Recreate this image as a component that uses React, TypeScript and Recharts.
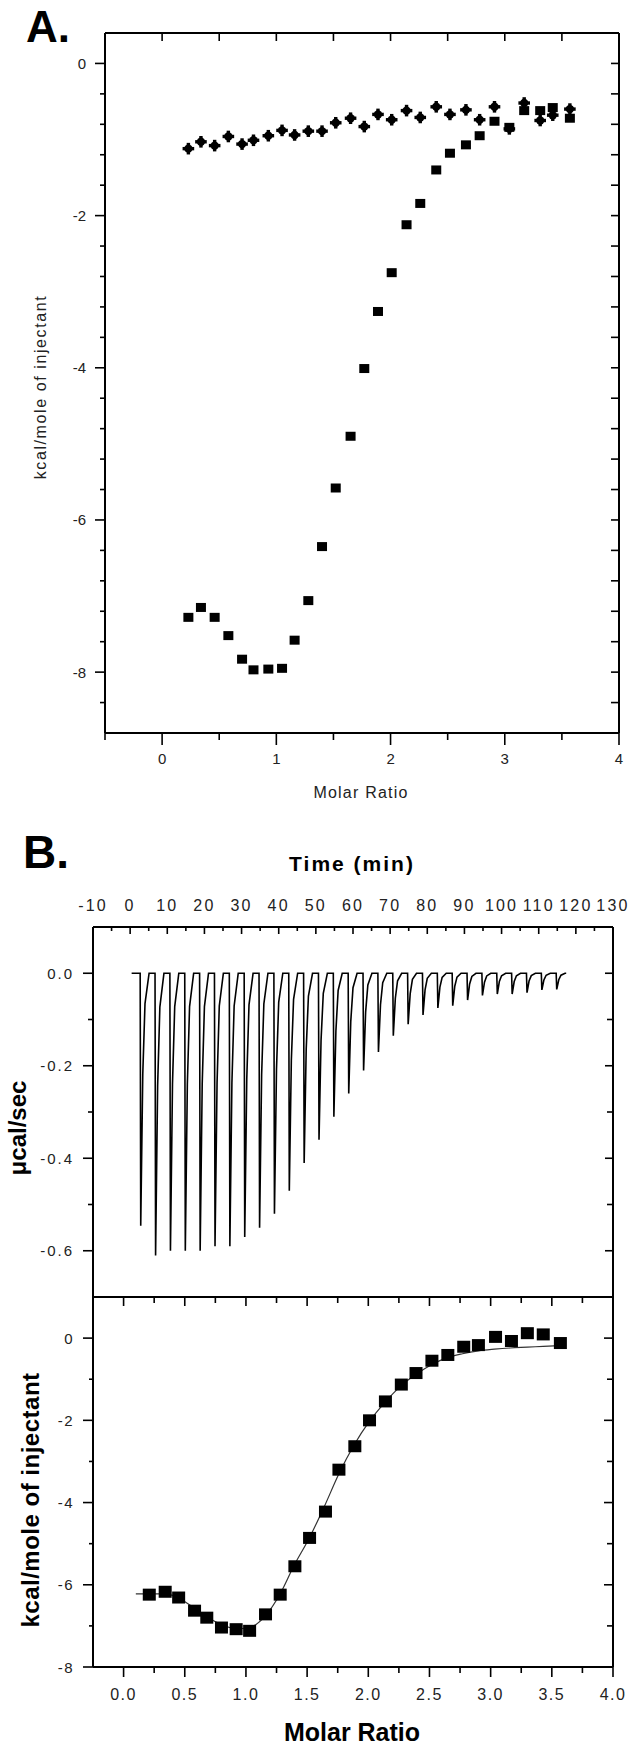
import { ComposedChart, Scatter, Line, XAxis, YAxis } from 'recharts';

const FONT = '"Liberation Sans", Arial, Helvetica, sans-serif';

// ---- panel A: heats per injection, titration vs. buffer control ----
const ratioA = [0.23, 0.34, 0.46, 0.58, 0.7, 0.8, 0.93, 1.05, 1.16, 1.28, 1.4, 1.52, 1.65, 1.77, 1.89, 2.01, 2.14, 2.26, 2.4, 2.52, 2.66, 2.78, 2.91, 3.04, 3.17, 3.31, 3.42, 3.57];
const titrationA = [-7.28, -7.15, -7.28, -7.52, -7.83, -7.97, -7.96, -7.95, -7.58, -7.06, -6.35, -5.58, -4.9, -4.01, -3.26, -2.75, -2.12, -1.84, -1.4, -1.18, -1.07, -0.95, -0.76, -0.84, -0.62, -0.62, -0.58, -0.72];
const controlA = [-1.12, -1.03, -1.08, -0.96, -1.06, -1.01, -0.95, -0.88, -0.94, -0.89, -0.89, -0.78, -0.72, -0.83, -0.67, -0.74, -0.62, -0.71, -0.57, -0.67, -0.61, -0.74, -0.57, -0.86, -0.52, -0.75, -0.68, -0.6];
const ticksAx = [-0.5, 0, 0.5, 1, 1.5, 2, 2.5, 3, 3.5, 4];
const ticksAxTop = [0, 0.5, 1, 1.5, 2, 2.5, 3, 3.5];
const ticksAy = [0, -0.4, -0.8, -1.2, -1.6, -2, -2.4, -2.8, -3.2, -3.6, -4, -4.4, -4.8, -5.2, -5.6, -6, -6.4, -6.8, -7.2, -7.6, -8, -8.4];

// ---- panel B top: raw thermogram ----
const injTimes = [2.7, 6.7, 10.7, 14.7, 18.7, 22.7, 26.7, 30.7, 34.7, 38.7, 42.7, 46.7, 50.7, 54.7, 58.7, 62.7, 66.7, 70.7, 74.7, 78.7, 82.7, 86.7, 90.7, 94.7, 98.7, 102.7, 106.7, 110.7, 114.7];
const injPeaks = [-0.546, -0.61, -0.6, -0.6, -0.6, -0.59, -0.59, -0.57, -0.55, -0.52, -0.47, -0.41, -0.36, -0.31, -0.26, -0.21, -0.17, -0.135, -0.11, -0.09, -0.075, -0.07, -0.058, -0.048, -0.045, -0.045, -0.042, -0.036, -0.035];
// shape of one injection peak: [minutes after injection, fraction of peak]
const spikeShape = [[0, 0], [0.15, 1], [0.7, 0.4], [1.3, 0.12], [2.4, 0]];
const baseline = [0.4, 117.4];
const ticksTime = [-10, -5, 0, 5, 10, 15, 20, 25, 30, 35, 40, 45, 50, 55, 60, 65, 70, 75, 80, 85, 90, 95, 100, 105, 110, 115, 120, 125, 130];
const ticksPower = [-0.6, -0.5, -0.4, -0.3, -0.2, -0.1, 0];

// ---- panel B bottom: integrated heats + fit ----
const ratioB = [0.21, 0.34, 0.45, 0.58, 0.68, 0.8, 0.92, 1.03, 1.16, 1.28, 1.4, 1.52, 1.65, 1.76, 1.89, 2.01, 2.14, 2.27, 2.39, 2.52, 2.65, 2.78, 2.9, 3.04, 3.17, 3.3, 3.43, 3.57];
const heatB = [-6.24, -6.17, -6.31, -6.63, -6.8, -7.04, -7.08, -7.12, -6.72, -6.24, -5.55, -4.86, -4.22, -3.2, -2.63, -2.0, -1.54, -1.13, -0.85, -0.55, -0.41, -0.21, -0.17, 0.03, -0.07, 0.12, 0.09, -0.12];
const fitX = [0.1, 0.21, 0.34, 0.45, 0.57, 0.68, 0.8, 0.92, 1.03, 1.16, 1.28, 1.39, 1.52, 1.64, 1.76, 1.88, 2.01, 2.14, 2.26, 2.39, 2.52, 2.64, 2.77, 2.9, 3.03, 3.16, 3.3, 3.43, 3.57];
const fitY = [-6.22, -6.22, -6.22, -6.32, -6.55, -6.78, -6.97, -7.07, -7.04, -6.75, -6.22, -5.55, -4.85, -4.1, -3.3, -2.62, -2.02, -1.55, -1.18, -0.88, -0.64, -0.48, -0.38, -0.31, -0.27, -0.24, -0.22, -0.2, -0.18];
const ticksBx = [0, 0.25, 0.5, 0.75, 1, 1.25, 1.5, 1.75, 2, 2.25, 2.5, 2.75, 3, 3.25, 3.5, 3.75, 4];
const ticksBxTop = [0, 0.25, 0.5, 0.75, 1, 1.25, 1.5, 1.75, 2, 2.25, 2.5, 2.75, 3, 3.25, 3.5, 3.75];
const ticksBy = [-8, -7, -6, -5, -4, -3, -2, -1, 0];

const scatterA = ratioA.map((x, i) => ({ x, y: titrationA[i] }));
const controlPts = ratioA.map((x, i) => ({ x, y: controlA[i] }));
const scatterB = ratioB.map((x, i) => ({ x, y: heatB[i] }));
const fitPts = fitX.map((x, i) => ({ x, y: fitY[i] }));

const thermo: { t: number; v: number }[] = [{ t: baseline[0], v: 0 }];
injTimes.forEach((t, i) => {
  spikeShape.forEach(([dt, f]) => thermo.push({ t: t + dt, v: injPeaks[i] * f }));
});
thermo.push({ t: baseline[1], v: 0 });

const near = (a: number) => Math.abs(a - Math.round(a)) < 1e-6;
const OUT: Record<string, [number, number]> = { left: [-1, 0], right: [1, 0], top: [0, -1], bottom: [0, 1] };

type TickOpts = {
  isMajor: (v: number) => boolean;
  major: number;
  minor: number;
  inward?: boolean;
  format?: (v: number) => string;
  dist?: number;
  size?: number;
  spacing?: number;
};

const axisTick = (side: string, o: TickOpts) => (p: any) => {
  const v = p.payload.value;
  const big = o.isMajor(v);
  const len = big ? o.major : o.minor;
  const [ox, oy] = OUT[side];
  const s = o.inward ? -1 : 1;
  const anchor = side === 'left' ? 'end' : side === 'right' ? 'start' : 'middle';
  return (
    <g>
      <line x1={p.x} y1={p.y} x2={p.x + ox * s * len} y2={p.y + oy * s * len} stroke="#000" strokeWidth={1.6} />
      {big && o.format ? (
        <text
          x={p.x + ox * (o.dist || 0)}
          y={p.y + oy * (o.dist || 0)}
          textAnchor={anchor}
          dominantBaseline="central"
          fontSize={o.size || 15}
          letterSpacing={o.spacing || 0}
          fill="#222"
        >
          {o.format(v)}
        </text>
      ) : null}
    </g>
  );
};

const axisLine = { stroke: '#000', strokeWidth: 2 };

const Square = (w: number, h: number) => (p: any) => (
  <rect x={p.cx - w / 2} y={p.cy - h / 2} width={w} height={h} fill="#000" />
);

const PlusDot = (p: any) => (
  <g fill="#000">
    <circle cx={p.cx} cy={p.cy} r={4.2} />
    <rect x={p.cx - 1.7} y={p.cy - 5.8} width={3.4} height={11.6} />
    <rect x={p.cx - 5.8} y={p.cy - 1.7} width={11.6} height={3.4} />
  </g>
);

const PanelA = () => (
  <ComposedChart width={630} height={800} margin={{ top: 32, right: 10, bottom: 0, left: 0 }}>
    <XAxis xAxisId="b" dataKey="x" type="number" domain={[-0.5, 4]} allowDataOverflow ticks={ticksAx} interval={0}
      height={67} axisLine={axisLine} tickLine={false} tickSize={0} tickMargin={0}
      tick={axisTick('bottom', { isMajor: near, major: 12, minor: 7, format: (v) => String(v), dist: 25, size: 15 })} />
    <XAxis xAxisId="t" orientation="top" dataKey="x" type="number" domain={[-0.5, 4]} allowDataOverflow ticks={ticksAxTop} interval={0}
      height={1} axisLine={axisLine} tickLine={false} tickSize={0} tickMargin={0}
      tick={axisTick('top', { isMajor: () => true, major: 8, minor: 8, inward: true })} />
    <YAxis yAxisId="l" dataKey="y" type="number" domain={[-8.8, 0.4]} allowDataOverflow ticks={ticksAy} interval={0}
      width={105} axisLine={axisLine} tickLine={false} tickSize={0} tickMargin={0}
      tick={axisTick('left', { isMajor: (v) => near(v / 2), major: 10, minor: 5, format: (v) => String(v), dist: 19, size: 15 })} />
    <YAxis yAxisId="r" orientation="right" type="number" domain={[-8.8, 0.4]} allowDataOverflow ticks={ticksAy} interval={0}
      width={1} axisLine={axisLine} tickLine={false} tickSize={0} tickMargin={0}
      tick={axisTick('right', { isMajor: () => true, major: 8, minor: 8, inward: true })} />
    <Scatter xAxisId="b" yAxisId="l" data={controlPts} shape={PlusDot} isAnimationActive={false} />
    <Scatter xAxisId="b" yAxisId="l" data={scatterA} shape={Square(10, 9)} isAnimationActive={false} />
  </ComposedChart>
);

const PanelBTop = () => (
  <ComposedChart width={630} height={458} margin={{ top: 0, right: 16, bottom: 0, left: 0 }}>
    <XAxis xAxisId="t" orientation="top" dataKey="t" type="number" domain={[-10, 130]} allowDataOverflow ticks={ticksTime} interval={0}
      height={87} axisLine={axisLine} tickLine={false} tickSize={0} tickMargin={0}
      tick={axisTick('top', { isMajor: (v) => near(v / 10), major: 7, minor: 4, inward: true, format: (v) => String(v), dist: 22, size: 16, spacing: 2.2 })} />
    <XAxis xAxisId="b" dataKey="t" type="number" domain={[-10, 130]} allowDataOverflow
      height={1} axisLine={axisLine} tickLine={false} tick={false} />
    <YAxis yAxisId="l" dataKey="v" type="number" domain={[-0.7, 0.1]} allowDataOverflow ticks={ticksPower} interval={0}
      width={93} axisLine={axisLine} tickLine={false} tickSize={0} tickMargin={0}
      tick={axisTick('left', { isMajor: (v) => near(v / 0.2), major: 10, minor: 5, format: (v) => v.toFixed(1), dist: 19, size: 15, spacing: 2 })} />
    <YAxis yAxisId="r" orientation="right" type="number" domain={[-0.7, 0.1]} allowDataOverflow ticks={ticksPower} interval={0}
      width={1} axisLine={axisLine} tickLine={false} tickSize={0} tickMargin={0}
      tick={axisTick('right', { isMajor: (v) => near(v / 0.2), major: 8, minor: 6, inward: true })} />
    <Line xAxisId="t" yAxisId="l" data={thermo} dataKey="v" type="linear" dot={false} stroke="#000" strokeWidth={1.6} isAnimationActive={false} />
  </ComposedChart>
);

const PanelBBottom = () => (
  <ComposedChart width={630} height={455} margin={{ top: 0, right: 16, bottom: 0, left: 0 }}>
    <XAxis xAxisId="b" dataKey="x" type="number" domain={[-0.25, 4]} allowDataOverflow ticks={ticksBx} interval={0}
      height={78} axisLine={axisLine} tickLine={false} tickSize={0} tickMargin={0}
      tick={axisTick('bottom', { isMajor: (v) => near(v / 0.5), major: 10, minor: 6, format: (v) => v.toFixed(1), dist: 27, size: 16, spacing: 1.5 })} />
    <XAxis xAxisId="t" orientation="top" dataKey="x" type="number" domain={[-0.25, 4]} allowDataOverflow ticks={ticksBxTop} interval={0}
      height={7} axisLine={axisLine} tickLine={false} tickSize={0} tickMargin={0}
      tick={axisTick('top', { isMajor: (v) => near(v / 0.5), major: 9, minor: 6, inward: true })} />
    <YAxis yAxisId="l" dataKey="y" type="number" domain={[-8, 1]} allowDataOverflow ticks={ticksBy} interval={0}
      width={93} axisLine={axisLine} tickLine={false} tickSize={0} tickMargin={0}
      tick={axisTick('left', { isMajor: (v) => near(v / 2), major: 10, minor: 4, format: (v) => String(v), dist: 19, size: 15, spacing: 1.5 })} />
    <YAxis yAxisId="r" orientation="right" type="number" domain={[-8, 1]} allowDataOverflow ticks={ticksBy} interval={0}
      width={1} axisLine={axisLine} tickLine={false} tickSize={0} tickMargin={0}
      tick={axisTick('right', { isMajor: (v) => near(v / 2), major: 9, minor: 6, inward: true })} />
    <Line xAxisId="b" yAxisId="l" data={fitPts} dataKey="y" type="monotone" dot={false} stroke="#333" strokeWidth={1.2} isAnimationActive={false} />
    <Scatter xAxisId="b" yAxisId="l" data={scatterB} shape={Square(13, 12)} isAnimationActive={false} />
  </ComposedChart>
);

export default function App() {
  return (
    <div style={{ position: 'absolute', left: 0, top: 0, width: 630, height: 1745, background: '#fff', fontFamily: FONT }}>
      <div style={{ position: 'absolute', left: 0, top: 0 }}><PanelA /></div>
      <div style={{ position: 'absolute', left: 0, top: 840 }}><PanelBTop /></div>
      <div style={{ position: 'absolute', left: 0, top: 1290 }}><PanelBBottom /></div>
      <svg width={630} height={1745} style={{ position: 'absolute', left: 0, top: 0, pointerEvents: 'none' }} fontFamily={FONT}>
        <text x={26} y={42} fontSize={44} fontWeight="bold">A.</text>
        <text x={361} y={792} fontSize={16} letterSpacing={1.2} textAnchor="middle" dominantBaseline="central" fill="#222">Molar Ratio</text>
        <text transform="translate(40 387) rotate(-90)" fontSize={16} letterSpacing={1.6} textAnchor="middle" dominantBaseline="central" fill="#222">kcal/mole of injectant</text>
        <text x={23} y={868} fontSize={46} fontWeight="bold">B.</text>
        <text x={352} y={863} fontSize={21} fontWeight="bold" letterSpacing={2} textAnchor="middle" dominantBaseline="central">Time (min)</text>
        <text transform="translate(17 1128) rotate(-90)" fontSize={24} fontWeight="bold" textAnchor="middle" dominantBaseline="central">μcal/sec</text>
        <text transform="translate(30 1500) rotate(-90)" fontSize={24} fontWeight="bold" letterSpacing={0.5} textAnchor="middle" dominantBaseline="central">kcal/mole of injectant</text>
        <text x={352} y={1732} fontSize={25} fontWeight="bold" textAnchor="middle" dominantBaseline="central">Molar Ratio</text>
      </svg>
    </div>
  );
}
